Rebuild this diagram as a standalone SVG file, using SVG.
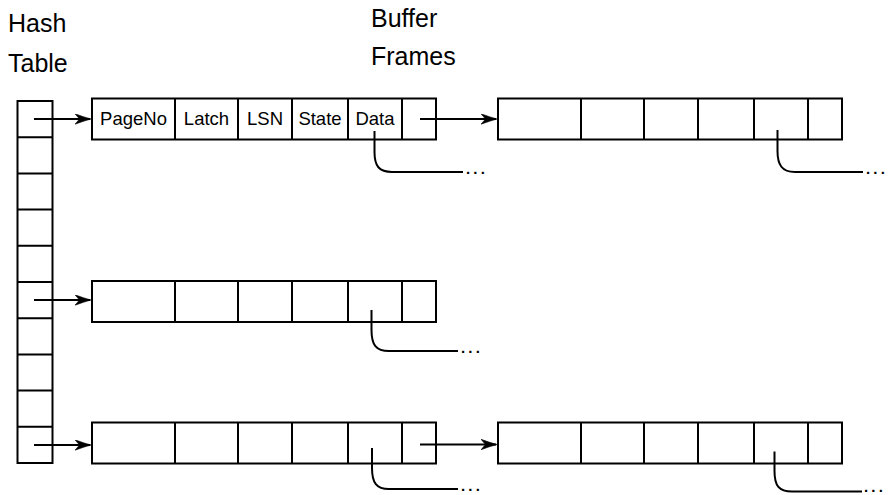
<svg xmlns="http://www.w3.org/2000/svg" width="889" height="495" viewBox="0 0 889 495">
<style>
.box{fill:none;stroke:#000;stroke-width:2;stroke-linejoin:miter}
.wire{fill:none;stroke:#000;stroke-width:2}
.t{font-family:"Liberation Sans",Arial,sans-serif;font-size:18.5px;fill:#000;text-anchor:middle}
.h{font-family:"Liberation Sans",Arial,sans-serif;font-size:25px;fill:#000}
.dots{font-family:"Liberation Sans",Arial,sans-serif;font-size:15px;font-weight:bold;fill:#000;letter-spacing:3.2px}
</style>
<defs>
<marker id="arr" markerUnits="userSpaceOnUse" markerWidth="16" markerHeight="11" refX="15" refY="5.5" orient="auto" viewBox="0 0 16 11">
<path d="M0,0.3 Q9,3.6 16,5.5 Q9,7.4 0,10.7 L4.5,5.5 Z" fill="#000" stroke="#000" stroke-width="0.6" stroke-linejoin="round"/>
</marker>
</defs>
<rect width="889" height="495" fill="#fff"/>

<g id="labels">
<text class="h" x="8" y="32">Hash</text>
<text class="h" x="8" y="72">Table</text>
<text class="h" x="371" y="27">Buffer</text>
<text class="h" x="371" y="65">Frames</text>
</g>

<g id="hash-table">
<rect class="box" x="17.5" y="101" width="35" height="362"/>
<path class="box" d="M17.5,137.2H52.5M17.5,173.4H52.5M17.5,209.6H52.5M17.5,245.8H52.5M17.5,282H52.5M17.5,318.2H52.5M17.5,354.4H52.5M17.5,390.6H52.5M17.5,426.8H52.5"/>
</g>

<g id="frame-1">
<rect class="box" x="92" y="98.5" width="344" height="41"/>
<path class="box" d="M175,98.5V139.5M238,98.5V139.5M292,98.5V139.5M348,98.5V139.5M402,98.5V139.5"/>
<text class="t" x="133.5" y="125">PageNo</text>
<text class="t" x="206.5" y="125">Latch</text>
<text class="t" x="265" y="125">LSN</text>
<text class="t" x="320" y="125">State</text>
<text class="t" x="375" y="125">Data</text>
</g>

<g id="frame-2">
<rect class="box" x="498" y="98.5" width="344" height="41"/>
<path class="box" d="M581,98.5V139.5M644,98.5V139.5M698,98.5V139.5M754,98.5V139.5M808,98.5V139.5"/>
</g>

<g id="frame-3">
<rect class="box" x="92" y="281" width="344" height="41"/>
<path class="box" d="M175,281V322M238,281V322M292,281V322M348,281V322M402,281V322"/>
</g>

<g id="frame-4">
<rect class="box" x="92" y="422.5" width="344" height="41"/>
<path class="box" d="M175,422.5V463.5M238,422.5V463.5M292,422.5V463.5M348,422.5V463.5M402,422.5V463.5"/>
</g>

<g id="frame-5">
<rect class="box" x="498" y="422.5" width="344" height="41"/>
<path class="box" d="M581,422.5V463.5M644,422.5V463.5M698,422.5V463.5M754,422.5V463.5M808,422.5V463.5"/>
</g>

<g id="connectors">
<path class="wire" d="M34,119H90" marker-end="url(#arr)"/>
<path class="wire" d="M420,119H496" marker-end="url(#arr)"/>
<path class="wire" d="M34,300H90" marker-end="url(#arr)"/>
<path class="wire" d="M34,445H90" marker-end="url(#arr)"/>
<path class="wire" d="M420,444.5H496" marker-end="url(#arr)"/>

<path class="wire" d="M374.5,131V152C374.5,166 379,172 392,172H463"/>
<path class="wire" d="M777.5,130V151C777.5,165 782,172 795,172H863"/>
<path class="wire" d="M371.5,310V330C371.5,345 376,351 389,351H458"/>
<path class="wire" d="M372,448V468C372,483 376.5,489 389,489H458"/>
<path class="wire" d="M774.5,451.5V471C774.5,486 779,491.5 792,491.5H862"/>
</g>

<g id="ellipses">
<text class="dots" x="466" y="174">...</text>
<text class="dots" x="866" y="174">...</text>
<text class="dots" x="461" y="353">...</text>
<text class="dots" x="461" y="491">...</text>
<text class="dots" x="864" y="492">...</text>
</g>
</svg>
